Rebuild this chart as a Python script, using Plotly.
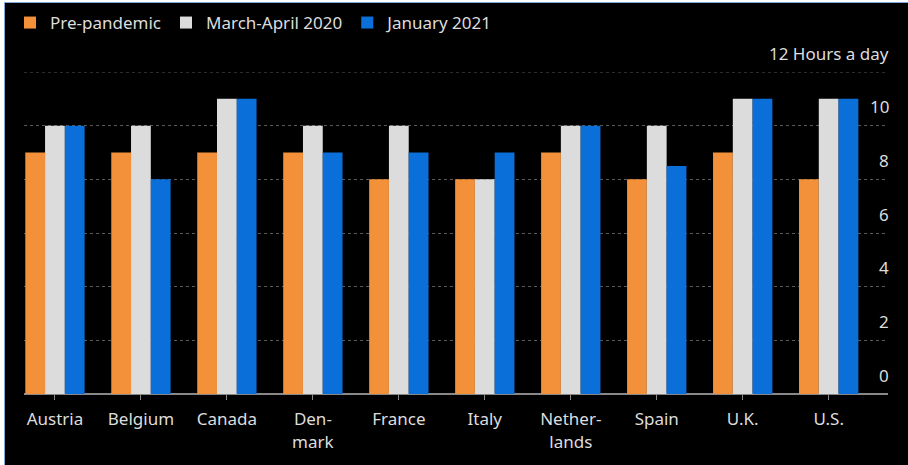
import plotly.graph_objects as go

countries = ["Austria", "Belgium", "Canada", "Den-<br>mark", "France", "Italy",
             "Nether-<br>lands", "Spain", "U.K.", "U.S."]
pre_pandemic = [9, 9, 9, 9, 8, 8, 9, 8, 9, 8]
march_april_2020 = [10, 10, 11, 10, 10, 8, 10, 10, 11, 11]
january_2021 = [10, 8, 11, 9, 9, 9, 10, 8.5, 11, 11]

y_ticks = [0, 2, 4, 6, 8, 10, 12]
y_tick_text = ["0", "2", "4", "6", "8", "10", "12 Hours a day"]

series = [
    ("Pre-pandemic", pre_pandemic, "#F3913A"),
    ("March-April 2020", march_april_2020, "#DCDCDC"),
    ("January 2021", january_2021, "#0B6FD9"),
]

FONT = "Noto Sans"
TEXT = "#DDDDDD"
FS = 17
GRID = "#5A5A5A"

fig = go.Figure()
for name, vals, color in series:
    fig.add_trace(go.Bar(
        x=list(range(len(countries))), y=vals, name=name,
        marker=dict(color=color, line=dict(width=0)),
    ))

W, H = 908, 465
ml, mr, mt, mb = 24, 20, 72, 71
pw = W - ml - mr
ph = H - mt - mb

# right-hand value labels sit just above their gridlines
annotations = [
    dict(
        x=1, xref="paper", y=v, yref="y", text=t, showarrow=False,
        xanchor="right", yanchor="middle", yshift=19, xshift=3,
        font=dict(family=FONT, size=FS, color=TEXT),
    )
    for v, t in zip(y_ticks, y_tick_text)
]

fig.update_layout(
    width=W, height=H,
    margin=dict(l=ml, r=mr, t=mt, b=mb, autoexpand=False),
    paper_bgcolor="white",
    plot_bgcolor="rgba(0,0,0,0)",
    barmode="group",
    bargap=0.31,
    bargroupgap=0,
    font=dict(family=FONT, size=FS, color=TEXT),
    showlegend=True,
    legend=dict(
        orientation="h", x=-14 / pw, xanchor="left", y=1 + 49 / ph, yanchor="middle",
        font=dict(family=FONT, size=FS, color=TEXT), bgcolor="rgba(0,0,0,0)",
        itemwidth=30, itemsizing="constant",
    ),
    xaxis=dict(
        range=[-0.36, 9.69],
        tickmode="array", tickvals=list(range(len(countries))), ticktext=countries,
        showgrid=False, zeroline=False, showline=False,
        ticks="outside", ticklen=5, tickcolor="#888888", tickwidth=1,
        ticklabelstandoff=5,
        tickfont=dict(family=FONT, size=FS, color=TEXT),
    ),
    yaxis=dict(
        range=[0, 12], side="right",
        tickmode="array", tickvals=y_ticks,
        showticklabels=False, ticks="",
        showgrid=True, gridcolor=GRID, griddash="dot", gridwidth=1,
        zeroline=True, zerolinecolor="#888888", zerolinewidth=1.5,
    ),
    annotations=annotations,
    shapes=[
        dict(
            type="rect", xref="paper", yref="paper", layer="below",
            x0=(4.5 - ml) / pw, x1=(W + 5 - ml) / pw,
            y0=-(mb + 5) / ph, y1=1 + (mt - 2.5) / ph,
            fillcolor="black", line=dict(color="#7FA8D8", width=1),
        ),
        # gridline at the top of the value range
        dict(
            type="line", xref="paper", yref="y", x0=0, x1=1, y0=12, y1=12,
            layer="below", line=dict(color=GRID, width=1, dash="dot"),
        ),
    ],
)

fig.write_html("out.html")
